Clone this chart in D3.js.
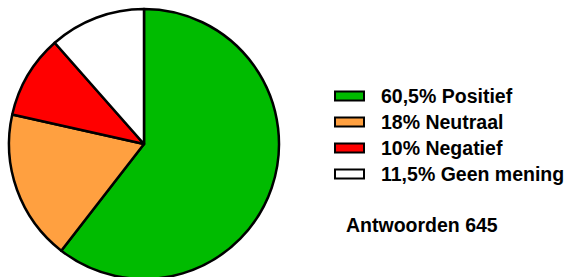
<!DOCTYPE html>
<html>
<head>
<meta charset="utf-8">
<script src="https://cdn.jsdelivr.net/npm/d3@7"></script>
<style>
  body { margin: 0; background: #fff; }
  svg { display: block; }
</style>
</head>
<body>
<svg></svg>
<script>
// data
var labels = ["60,5% Positief", "18% Neutraal", "10% Negatief", "11,5% Geen mening"];
var values = [60.5, 18, 10, 11.5];
var colors = ["#00bb00", "#ffa040", "#ff0000", "#ffffff"];
var total = "Antwoorden 645";

let svg = d3.select("svg")
  .attr("width", 570)
  .attr("height", 277);

// pie
let pie = d3.pie().sort(null).value(d => d);
let arc = d3.arc().innerRadius(0).outerRadius(135);

svg.append("g")
  .attr("id", "pie")
  .attr("transform", "translate(144,144)")
  .selectAll("path")
  .data(pie(values))
  .enter()
  .append("path")
  .attr("d", arc)
  .attr("fill", (d, i) => colors[i])
  .attr("stroke", "#000")
  .attr("stroke-width", 2.5)
  .attr("stroke-linejoin", "round");

// legend
let y = d3.scaleBand()
  .domain(labels)
  .range([83, 187]);

let legend = svg.append("g")
  .attr("id", "legend")
  .selectAll("g")
  .data(labels)
  .enter()
  .append("g")
  .attr("transform", d => `translate(0,${y(d) + y.bandwidth() / 2})`);

legend.append("rect")
  .attr("x", 335)
  .attr("y", -4.5)
  .attr("width", 29)
  .attr("height", 9)
  .attr("fill", (d, i) => colors[i])
  .attr("stroke", "#000")
  .attr("stroke-width", 2);

legend.append("text")
  .attr("x", 381)
  .attr("dy", "0.35em")
  .attr("font-family", "Liberation Sans, Arial, sans-serif")
  .attr("font-weight", "bold")
  .attr("font-size", 19.5)
  .text(d => d);

svg.append("text")
  .attr("x", 346)
  .attr("y", 232)
  .attr("font-family", "Liberation Sans, Arial, sans-serif")
  .attr("font-weight", "bold")
  .attr("font-size", 19.5)
  .text(total);
</script>
</body>
</html>
